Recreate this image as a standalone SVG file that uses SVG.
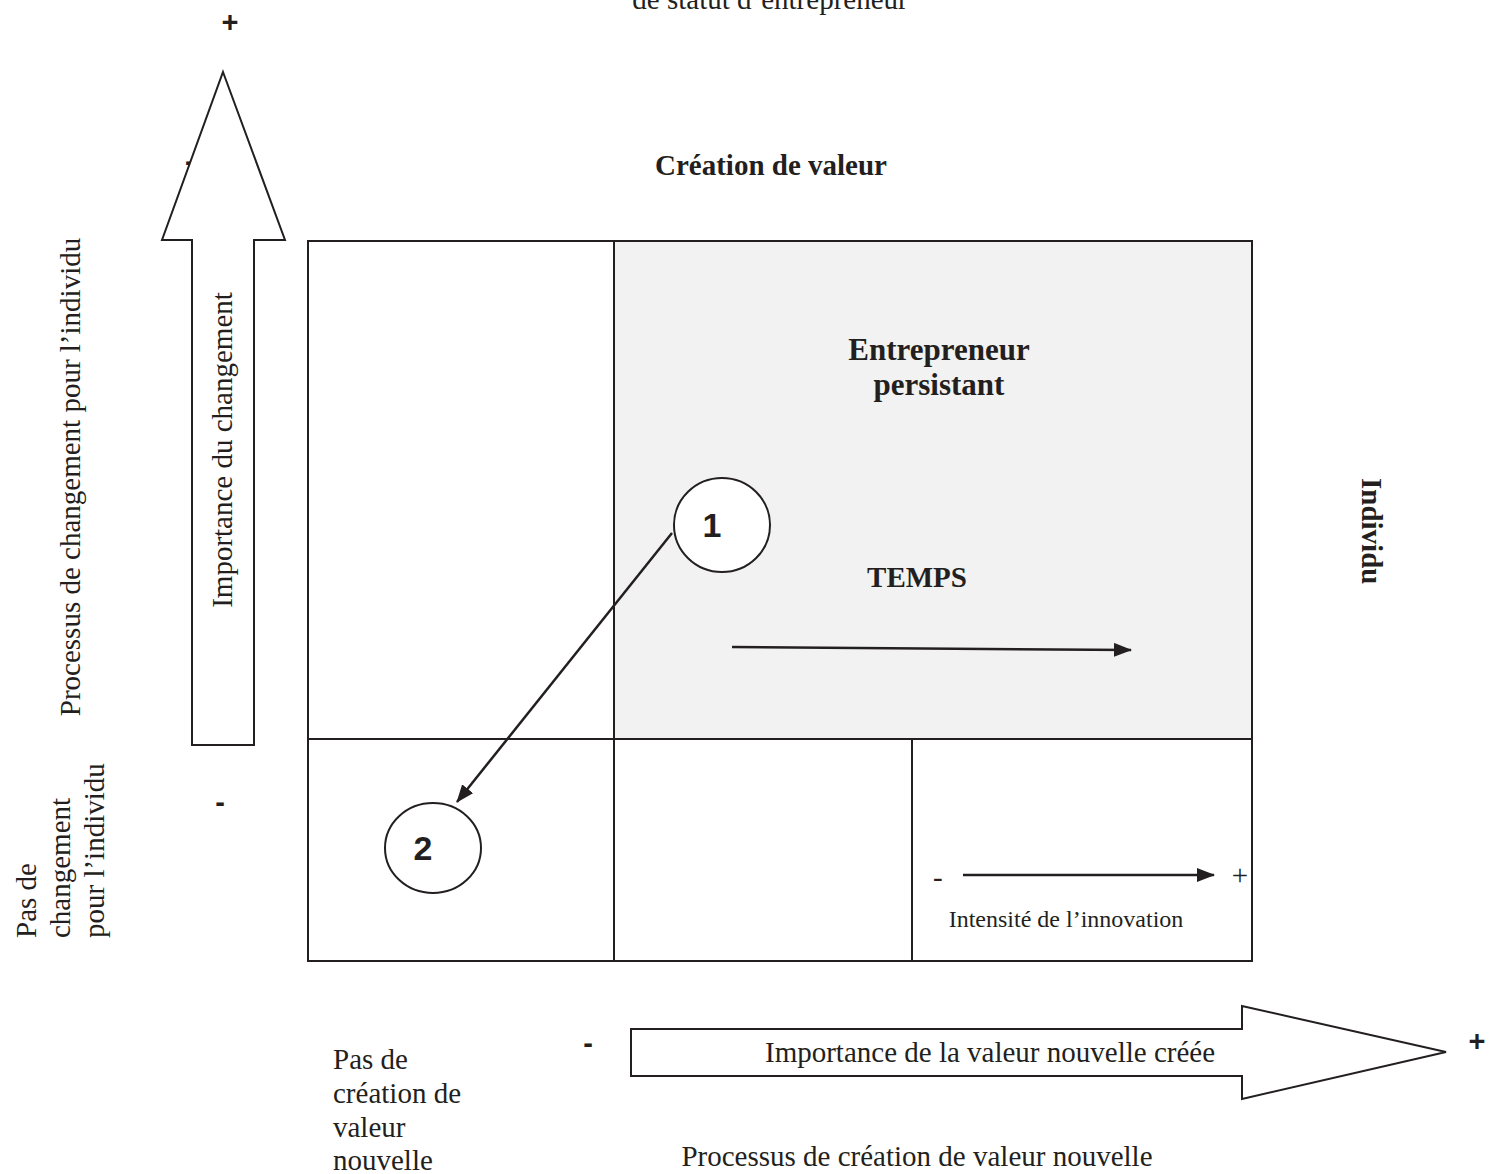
<svg xmlns="http://www.w3.org/2000/svg" width="1505" height="1174" viewBox="0 0 1505 1174">
<defs>
<style>
.t{font-family:"Liberation Serif","Times New Roman",serif;font-size:29px;fill:#231f20}
.b{font-weight:bold}
.s{font-family:"Liberation Sans",Arial,sans-serif;font-weight:bold;fill:#231f20}
.ln{stroke:#231f20;stroke-width:2.5;fill:none}
.bx{stroke:#231f20;stroke-width:2;fill:none}
.shape{stroke:#231f20;stroke-width:2;fill:#fff}
</style>
<marker id="ah" viewBox="0 0 18 14" refX="17" refY="7" markerWidth="18" markerHeight="14" markerUnits="userSpaceOnUse" orient="auto">
<path d="M0,0 L18,7 L0,14 z" fill="#231f20"/>
</marker>
</defs>
<rect width="1505" height="1174" fill="#fff"/>

<text class="t" x="770" y="9" text-anchor="middle">de statut d’entrepreneur</text>

<g id="grid">
<rect x="614" y="241" width="638" height="498" fill="#f2f2f2"/>
<rect class="bx" x="308" y="241" width="944" height="720"/>
<line class="bx" x1="614" y1="241" x2="614" y2="961"/>
<line class="bx" x1="308" y1="739" x2="1252" y2="739"/>
<line class="bx" x1="912" y1="739" x2="912" y2="961"/>
</g>

<text class="t b" x="771" y="175" text-anchor="middle">Création de valeur</text>
<text class="t b" x="939" y="360" text-anchor="middle" style="font-size:31px">Entrepreneur</text>
<text class="t b" x="939" y="395" text-anchor="middle" style="font-size:31px">persistant</text>
<text class="t b" x="917" y="587" text-anchor="middle">TEMPS</text>
<text class="t b" transform="translate(1362,478) rotate(90)">Individu</text>

<text class="t" transform="translate(80,477) rotate(-90)" text-anchor="middle">Processus de changement pour l’individu</text>
<g class="t" transform="translate(0,938) rotate(-90)">
<text x="0" y="36">Pas de</text>
<text x="0" y="70">changement</text>
<text x="0" y="104">pour l’individu</text>
</g>

<text class="s" x="185" y="171" font-size="29">-</text>
<g id="vertical-arrow">
<path class="shape" d="M223,72 L285,240 L254,240 L254,745 L192,745 L192,240 L162,240 Z"/>
<text class="t" transform="translate(232,450) rotate(-90)" text-anchor="middle">Importance du changement</text>
</g>
<text class="s" x="230" y="32" font-size="29" text-anchor="middle">+</text>
<text class="s" x="220" y="812" font-size="29" text-anchor="middle">-</text>

<g id="horizontal-arrow">
<path class="shape" d="M631,1029 L1242,1029 L1242,1006 L1446,1052 L1242,1099 L1242,1076 L631,1076 Z"/>
<text class="t" x="990" y="1062" text-anchor="middle">Importance de la valeur nouvelle créée</text>
</g>
<text class="s" x="588" y="1053" font-size="29" text-anchor="middle">-</text>
<text class="s" x="1477" y="1051" font-size="29" text-anchor="middle">+</text>

<g class="t">
<text x="333" y="1069">Pas de</text>
<text x="333" y="1103">création de</text>
<text x="333" y="1137">valeur</text>
<text x="333" y="1170">nouvelle</text>
</g>
<text class="t" x="917" y="1166" text-anchor="middle">Processus de création de valeur nouvelle</text>

<g id="node-1">
<ellipse class="shape" cx="722" cy="525" rx="48" ry="47"/>
<text class="s" x="712" y="537" font-size="34" text-anchor="middle">1</text>
</g>
<g id="node-2">
<ellipse class="shape" cx="433" cy="848" rx="48" ry="45"/>
<text class="s" x="423" y="860" font-size="34" text-anchor="middle">2</text>
</g>

<g id="connectors">
<line class="ln" x1="672" y1="533" x2="457" y2="802" marker-end="url(#ah)"/>
<line class="ln" x1="732" y1="647" x2="1131" y2="650" marker-end="url(#ah)"/>
<line class="ln" x1="963" y1="875" x2="1214" y2="875" marker-end="url(#ah)"/>
</g>

<g id="intensity">
<text class="t" x="933" y="887">-</text>
<text class="t" x="1240" y="885" text-anchor="middle">+</text>
<text class="t" x="1066" y="927" text-anchor="middle" style="font-size:24px">Intensité de l’innovation</text>
</g>
</svg>
